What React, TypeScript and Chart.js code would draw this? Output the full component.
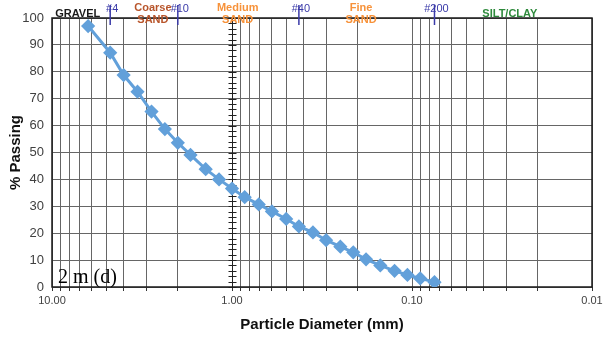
import React, { useEffect, useRef } from "react";
import { Chart, registerables } from "chart.js";

Chart.register(...registerables);

const diameters = [6.3, 4.75, 4.0, 3.35, 2.8, 2.36, 2.0, 1.7, 1.4, 1.18, 1.0, 0.85, 0.71, 0.6, 0.5, 0.425, 0.355, 0.3, 0.25, 0.212, 0.18, 0.15, 0.125, 0.106, 0.09, 0.075];
const percentPassing = [97.0, 87.1, 78.8, 72.6, 65.2, 58.7, 53.6, 49.1, 43.8, 40.0, 36.6, 33.4, 30.7, 28.1, 25.3, 22.5, 20.3, 17.4, 15.0, 12.9, 10.3, 8.0, 6.0, 4.5, 3.2, 1.8];

const sieveNames = ["#4", "#10", "#40", "#200"];
const sieveSizes = [4.75, 2.0, 0.425, 0.075];

const soilNames = [["GRAVEL"], ["Coarse", "SAND"], ["Medium", "SAND"], ["Fine", "SAND"], ["SILT/CLAY"]];
const soilCenters = [7.2, 2.75, 0.93, 0.192, 0.0286];
const soilColors = ["#1a1a1a", "#b8552b", "#f7923a", "#f7923a", "#2e8a3c"];

const sampleLabel = "2 m (d)";

const xTickValues: number[] = [];
for (const e of [-2, -1, 0]) {
  for (let m = 1; m <= 9; m++) xTickValues.push(parseFloat((m * Math.pow(10, e)).toPrecision(6)));
}
xTickValues.push(10);

const isDecade = (v: number) => Math.abs(Math.log10(v) - Math.round(Math.log10(v))) < 1e-9;

const overlayPlugin = {
  id: "overlay",
  beforeDatasetsDraw(chart: any) {
    const { ctx, chartArea, scales } = chart;
    const x = scales.x;
    const y = scales.y;
    ctx.save();
    const px = Math.round(x.getPixelForValue(1)) + 0.5;
    ctx.strokeStyle = "#222";
    ctx.lineWidth = 1;
    ctx.beginPath();
    ctx.moveTo(px, chartArea.top);
    ctx.lineTo(px, chartArea.bottom);
    for (let v = 0; v <= 100; v += 2) {
      const py = Math.round(y.getPixelForValue(v)) + 0.5;
      ctx.moveTo(px - 4, py);
      ctx.lineTo(px + 4, py);
    }
    ctx.stroke();
    ctx.strokeStyle = "#1a1a1a";
    ctx.lineWidth = 1.5;
    ctx.strokeRect(chartArea.left, chartArea.top, chartArea.right - chartArea.left, chartArea.bottom - chartArea.top);
    ctx.restore();
  },
  afterDraw(chart: any) {
    const { ctx, chartArea, scales } = chart;
    const x = scales.x;
    ctx.save();
    ctx.strokeStyle = "#3a3aa8";
    ctx.lineWidth = 1.5;
    ctx.fillStyle = "#3a3aa8";
    ctx.font = "11px 'Liberation Sans', Arial, sans-serif";
    ctx.textAlign = "center";
    ctx.textBaseline = "middle";
    sieveSizes.forEach((s, i) => {
      const px = x.getPixelForValue(s);
      ctx.beginPath();
      ctx.moveTo(px, chartArea.top - 13);
      ctx.lineTo(px, chartArea.top + 7);
      ctx.stroke();
      ctx.fillText(sieveNames[i], px + 2, chartArea.top - 9);
    });
    ctx.font = "bold 11px 'Liberation Sans', Arial, sans-serif";
    soilNames.forEach((lines, i) => {
      const px = x.getPixelForValue(soilCenters[i]);
      ctx.fillStyle = soilColors[i];
      if (lines.length === 1) {
        ctx.fillText(lines[0], px, chartArea.top - 4);
      } else {
        ctx.fillText(lines[0], px, chartArea.top - 10);
        ctx.fillText(lines[1], px, chartArea.top + 2);
      }
    });
    ctx.fillStyle = "#000";
    ctx.textAlign = "left";
    ctx.textBaseline = "alphabetic";
    ctx.font = "20px 'Liberation Serif', 'Times New Roman', serif";
    ctx.fillText(sampleLabel, chartArea.left + 6, chartArea.bottom - 4);
    ctx.restore();
  },
};

export default function App() {
  const canvasRef = useRef<HTMLCanvasElement | null>(null);

  useEffect(() => {
    if (!canvasRef.current) return;
    const chart = new Chart(canvasRef.current, {
      type: "line",
      data: {
        datasets: [
          {
            data: diameters.map((d, i) => ({ x: d, y: percentPassing[i] })),
            borderColor: "#62a0da",
            backgroundColor: "#62a0da",
            borderWidth: 3,
            pointStyle: "rectRot",
            pointRadius: 5,
            pointHoverRadius: 5,
            tension: 0,
          },
        ],
      },
      options: {
        animation: false,
        responsive: true,
        maintainAspectRatio: false,
        layout: { padding: { top: 18, right: 11, left: 0, bottom: 0 } },
        plugins: { legend: { display: false }, tooltip: { enabled: false } },
        scales: {
          x: {
            type: "logarithmic",
            reverse: true,
            min: 0.01,
            max: 10,
            afterBuildTicks(scale: any) {
              scale.ticks = xTickValues.map((v) => ({ value: v }));
            },
            afterFit(scale: any) {
              scale.height = 52;
              scale.paddingLeft = 0;
              scale.paddingRight = 0;
            },
            ticks: {
              autoSkip: false,
              maxRotation: 0,
              minRotation: 0,
              padding: 3,
              color: "#404040",
              font: { family: "'Liberation Sans', Arial, sans-serif", size: 11 },
              callback: (v: any) => (isDecade(Number(v)) ? Number(v).toFixed(2) : ""),
            },
            grid: {
              color: "#666",
              lineWidth: 1,
              borderDash: [2, 2],
              tickLength: 4,
              tickColor: "#333",
              tickBorderDash: [],
            } as any,
            border: { display: false },
            title: {
              display: true,
              text: "Particle Diameter (mm)",
              color: "#111",
              font: { family: "'Liberation Sans', Arial, sans-serif", size: 15, weight: "bold" },
              padding: { top: 4, bottom: 5 },
            },
          },
          y: {
            min: 0,
            max: 100,
            afterFit(scale: any) {
              scale.width = 52;
            },
            ticks: {
              stepSize: 10,
              padding: 8,
              color: "#404040",
              font: { family: "'Liberation Sans', Arial, sans-serif", size: 13 },
            },
            grid: {
              color: "#666",
              lineWidth: 1,
              borderDash: [2, 2],
              drawTicks: false,
            } as any,
            border: { display: false },
            title: {
              display: true,
              text: "% Passing",
              color: "#111",
              font: { family: "'Liberation Sans', Arial, sans-serif", size: 15, weight: "bold" },
              padding: { top: 7, bottom: 2 },
            },
          },
        },
      },
      plugins: [overlayPlugin],
    } as any);
    return () => chart.destroy();
  }, []);

  return (
    <div style={{ position: "absolute", left: 0, top: 0, width: 603, height: 339, background: "#fff" }}>
      <canvas ref={canvasRef} />
    </div>
  );
}
